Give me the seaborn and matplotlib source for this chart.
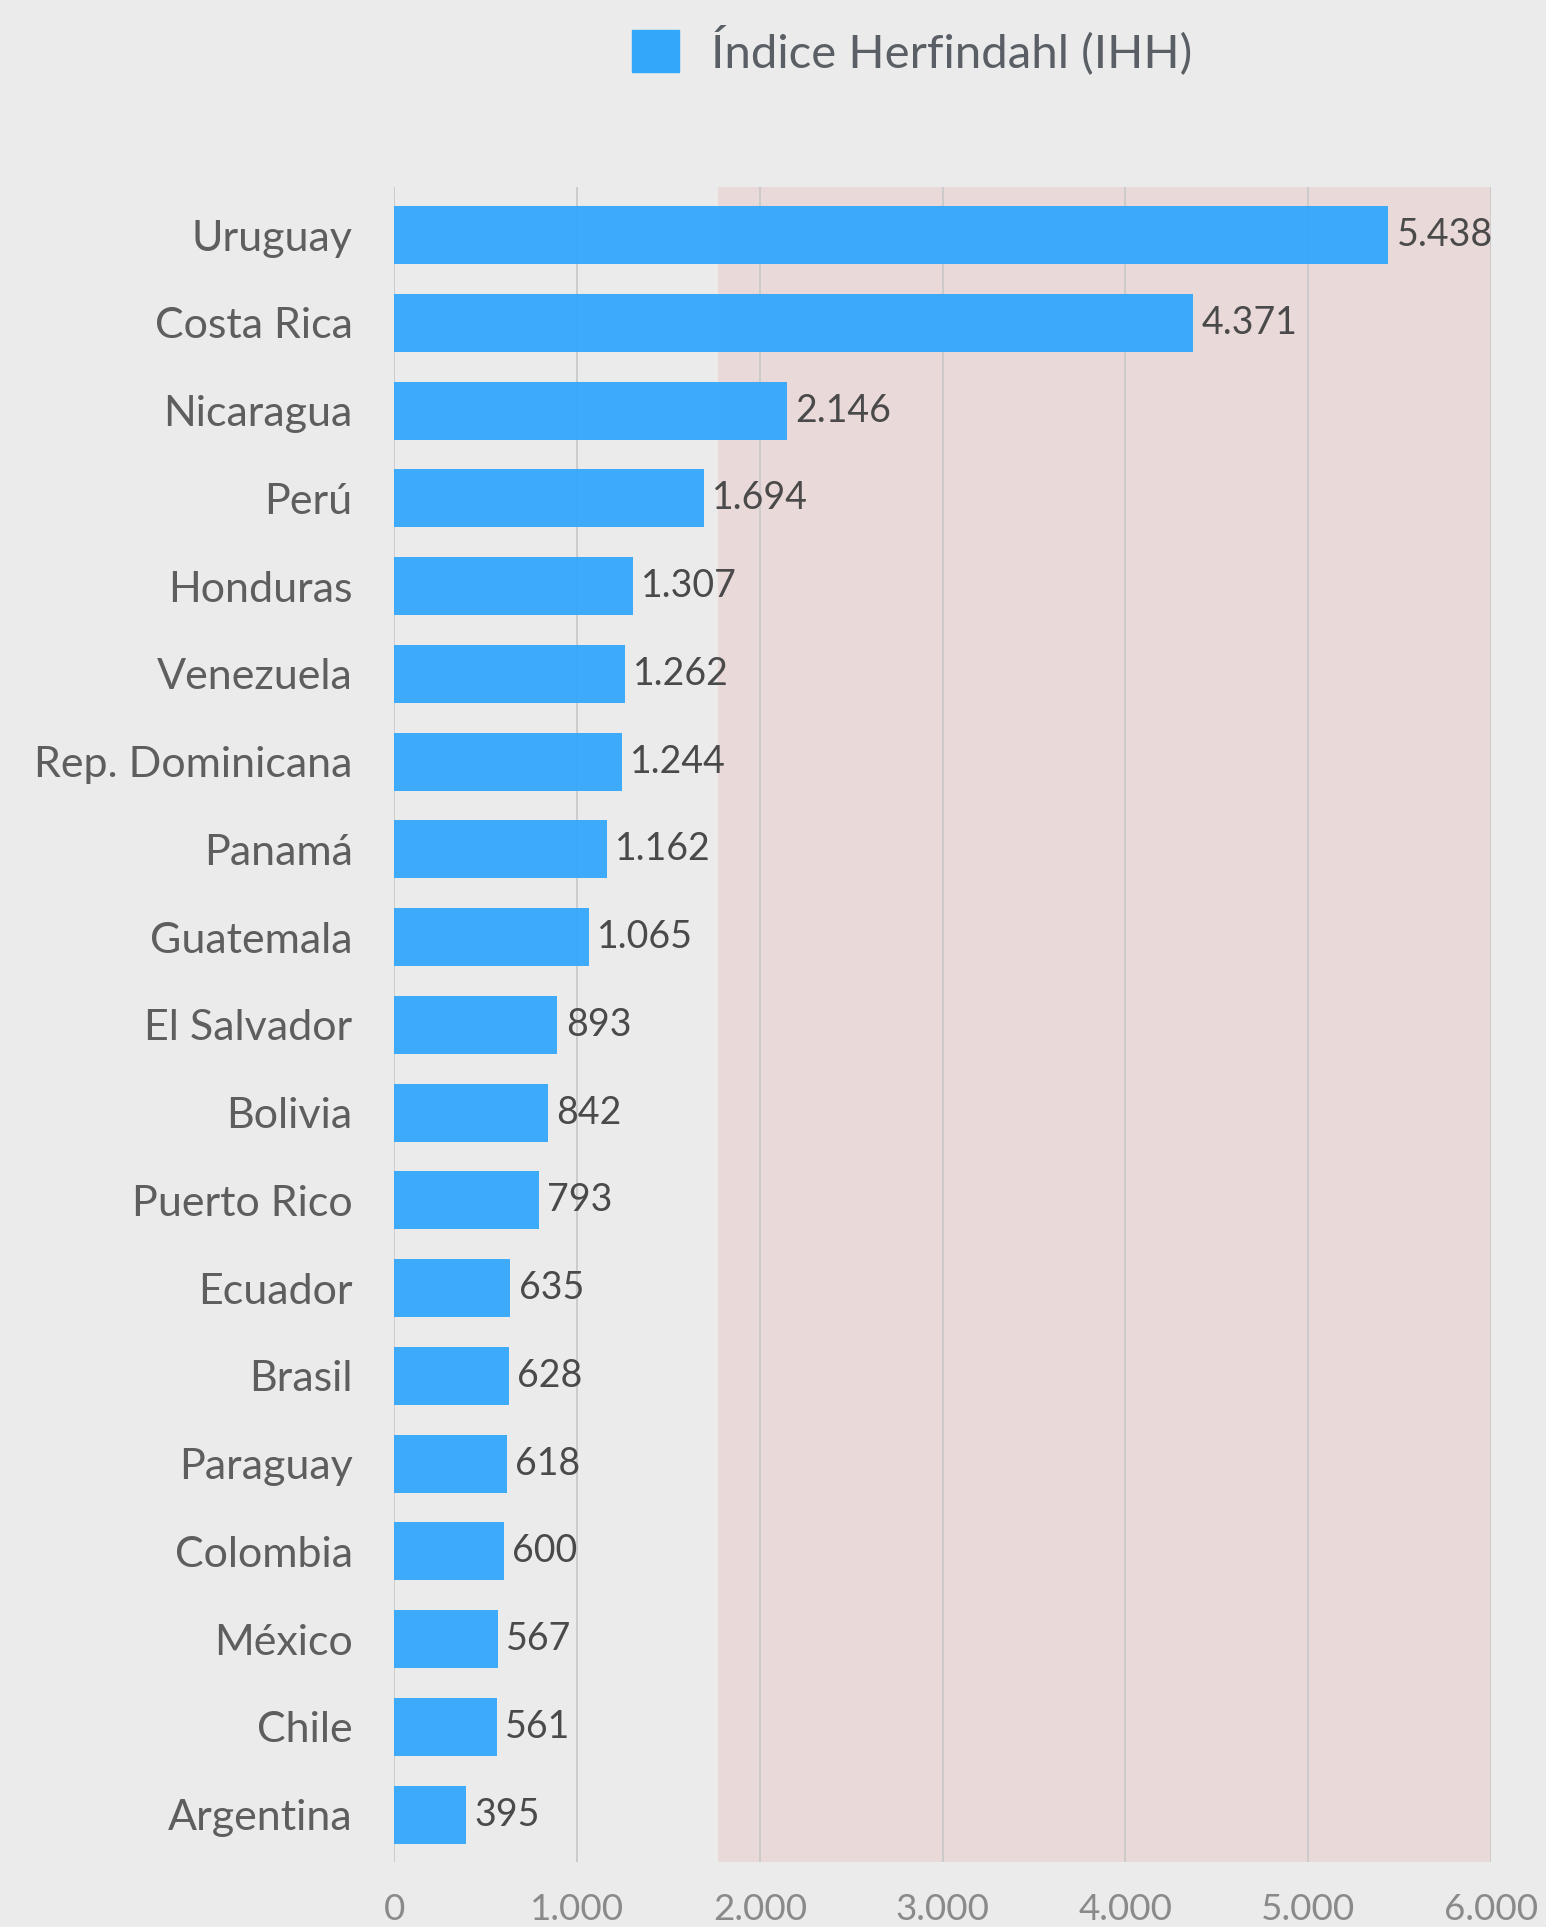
import matplotlib
matplotlib.use("Agg")
import matplotlib.pyplot as plt
import seaborn as sns
import pandas as pd
from matplotlib.patches import Patch

# Chart data
countries = ["Uruguay", "Costa Rica", "Nicaragua", "Perú", "Honduras", "Venezuela",
             "Rep. Dominicana", "Panamá", "Guatemala", "El Salvador", "Bolivia",
             "Puerto Rico", "Ecuador", "Brasil", "Paraguay", "Colombia", "México",
             "Chile", "Argentina"]
ihh = [5438, 4371, 2146, 1694, 1307, 1262, 1244, 1162, 1065, 893, 842,
       793, 635, 628, 618, 600, 567, 561, 395]
x_ticks = [0, 1000, 2000, 3000, 4000, 5000, 6000]
shade_from = 1770
series_name = "Índice Herfindahl (IHH)"

df = pd.DataFrame({"country": countries, "ihh": ihh})

sns.set_theme(style="white")
plt.rcParams["font.family"] = ["Lato", "DejaVu Sans"]

bg = "#EBEBEB"
bar_color = "#33A8FA"

fig = plt.figure(figsize=(15.46, 19.27), dpi=100, facecolor=bg)
ax = fig.add_axes([0.255, 0.0337, 0.7095, 0.8693], facecolor=bg)

# shaded "high concentration" zone and grid
ax.axvspan(shade_from, 6000, color="#EAD9D9", zorder=0, lw=0)
for t in x_ticks:
    ax.axvline(t, color="#C9C9C9", lw=1.3, zorder=1)

sns.barplot(data=df, x="ihh", y="country", orient="h", color=bar_color,
            width=0.66, saturation=1, alpha=0.95, linewidth=0, ax=ax, zorder=2)

for i, v in enumerate(ihh):
    ax.text(v + 45, i, f"{v:,}".replace(",", "."), va="center", ha="left",
            fontsize=27, color="#4A4A4A", zorder=3)

ax.set_xlim(0, 6000)
ax.set_ylim(18.54, -0.55)
ax.set_xticks(x_ticks)
ax.set_xticklabels([f"{t:,}".replace(",", ".") for t in x_ticks])
ax.tick_params(axis="x", length=0, pad=22, labelsize=26.5, labelcolor="#8A8A8A")
ax.tick_params(axis="y", length=0, pad=30, labelsize=31, labelcolor="#5E5E5E")
ax.set_xlabel("")
ax.set_ylabel("")
for s in ax.spines.values():
    s.set_visible(False)

fig.legend(handles=[Patch(color=bar_color, label=series_name)],
           loc="center", bbox_to_anchor=(0.590, 0.974), frameon=False,
           fontsize=34, handlelength=1.0, handleheight=1.0,
           handletextpad=0.68, labelcolor="#5A5F66")

fig.savefig("out.png", dpi=100, facecolor=bg)
